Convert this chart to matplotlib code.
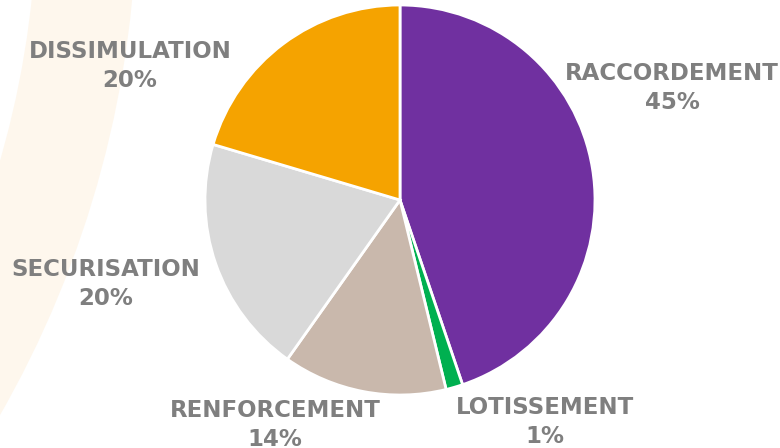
import matplotlib.pyplot as plt
from matplotlib.patches import Wedge

# Données
categories = ["RACCORDEMENT", "LOTISSEMENT", "RENFORCEMENT", "SECURISATION", "DISSIMULATION"]
values = [44.8, 1.4, 13.6, 19.8, 20.4]
pct_labels = ["45%", "1%", "14%", "20%", "20%"]
colors = ["#7030A0", "#00B050", "#C9B8AC", "#D9D9D9", "#F5A300"]

W, H = 780, 448
fig = plt.figure(figsize=(W / 100, H / 100), dpi=100)

# fond : bande orange très pâle (filigrane)
bg = fig.add_axes([0, 0, 1, 1])
bg.set_xlim(0, W)
bg.set_ylim(H, 0)
bg.axis("off")
bg.add_patch(Wedge((-900, -100), 1037, -30, 30, width=100, facecolor="#FEF7ED", lw=0))

# camembert
cx, cy, r = 400, 200, 195
ax = fig.add_axes([(cx - r) / W, (H - cy - r) / H, 2 * r / W, 2 * r / H])
ax.pie(values, colors=colors, startangle=90, counterclock=False,
       wedgeprops=dict(edgecolor="white", linewidth=2))
ax.set_xlim(-1, 1)
ax.set_ylim(-1, 1)
ax.set_aspect("equal")

# étiquettes
label_pos = [(672, 88), (545, 422), (275, 425), (106, 284), (130, 66)]
for cat, pct, (x, y) in zip(categories, pct_labels, label_pos):
    fig.text(x / W, 1 - y / H, cat + "\n" + pct, ha="center", va="center",
             fontsize=16.5, fontweight="bold", color="#7F7F7F",
             family="DejaVu Sans", linespacing=1.3)

fig.savefig("out.png", dpi=100)
plt.close(fig)
